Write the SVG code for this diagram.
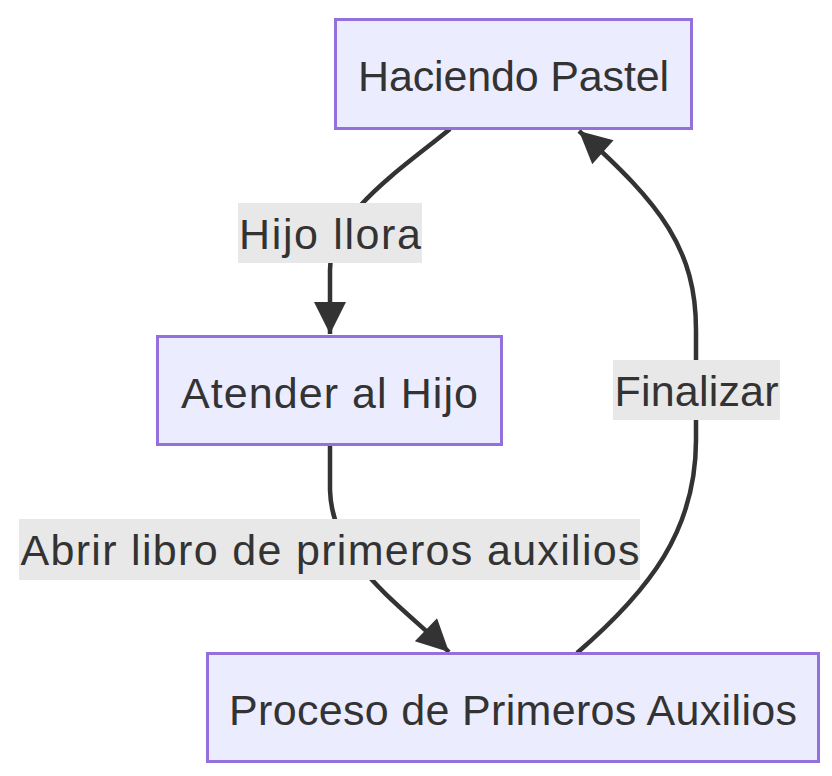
<svg xmlns="http://www.w3.org/2000/svg" width="832" height="776" viewBox="0 0 832 776">
<style>
.node rect{fill:#ECECFF;stroke:#9370DB;stroke-width:3}
.t{font-family:"Liberation Sans",Arial,sans-serif;font-size:43px;fill:#333;text-anchor:middle}
.edge{fill:none;stroke:#333;stroke-width:4.5}
.lbl{fill:#E8E8E8}
</style>
<defs>
<marker id="arr" viewBox="0 0 10 10" refX="10" refY="5" markerUnits="userSpaceOnUse" markerWidth="34" markerHeight="32" orient="auto">
<path d="M0,0 L10,5 L0,10 z" fill="#333"/>
</marker>
</defs>
<rect width="832" height="776" fill="#fff"/>
<g id="connectors">
<path class="edge" d="M450,129 C400,170 330,215 330,270 L330,334" marker-end="url(#arr)"/>
<path class="edge" d="M330,445 L330,490 C332,560 395,600 449,652" marker-end="url(#arr)"/>
<path class="edge" d="M577,653 C650,590 696,530 696,440 L696,330 C696,250 662,205 579,131" marker-end="url(#arr)"/>
</g>
<g id="edge-labels">
<g id="label-hijo-llora"><rect class="lbl" x="238" y="203" width="184" height="60"/><text class="t" x="330" y="249" textLength="182" lengthAdjust="spacing">Hijo llora</text></g>
<g id="label-abrir"><rect class="lbl" x="19" y="519" width="621" height="61"/><text class="t" x="330" y="565" textLength="619" lengthAdjust="spacing">Abrir libro de primeros auxilios</text></g>
<g id="label-finalizar"><rect class="lbl" x="613" y="360" width="167" height="60"/><text class="t" x="696.5" y="406" textLength="164" lengthAdjust="spacing">Finalizar</text></g>
</g>
<g id="node-haciendo" class="node"><rect x="335.5" y="19.5" width="356" height="109"/><text class="t" x="513.5" y="91" textLength="311" lengthAdjust="spacing">Haciendo Pastel</text></g>
<g id="node-atender" class="node"><rect x="157.5" y="336.5" width="344" height="108"/><text class="t" x="329.5" y="408" textLength="297" lengthAdjust="spacing">Atender al Hijo</text></g>
<g id="node-proceso" class="node"><rect x="207.5" y="653.5" width="611" height="108"/><text class="t" x="513" y="725" textLength="568" lengthAdjust="spacing">Proceso de Primeros Auxilios</text></g>
</svg>
